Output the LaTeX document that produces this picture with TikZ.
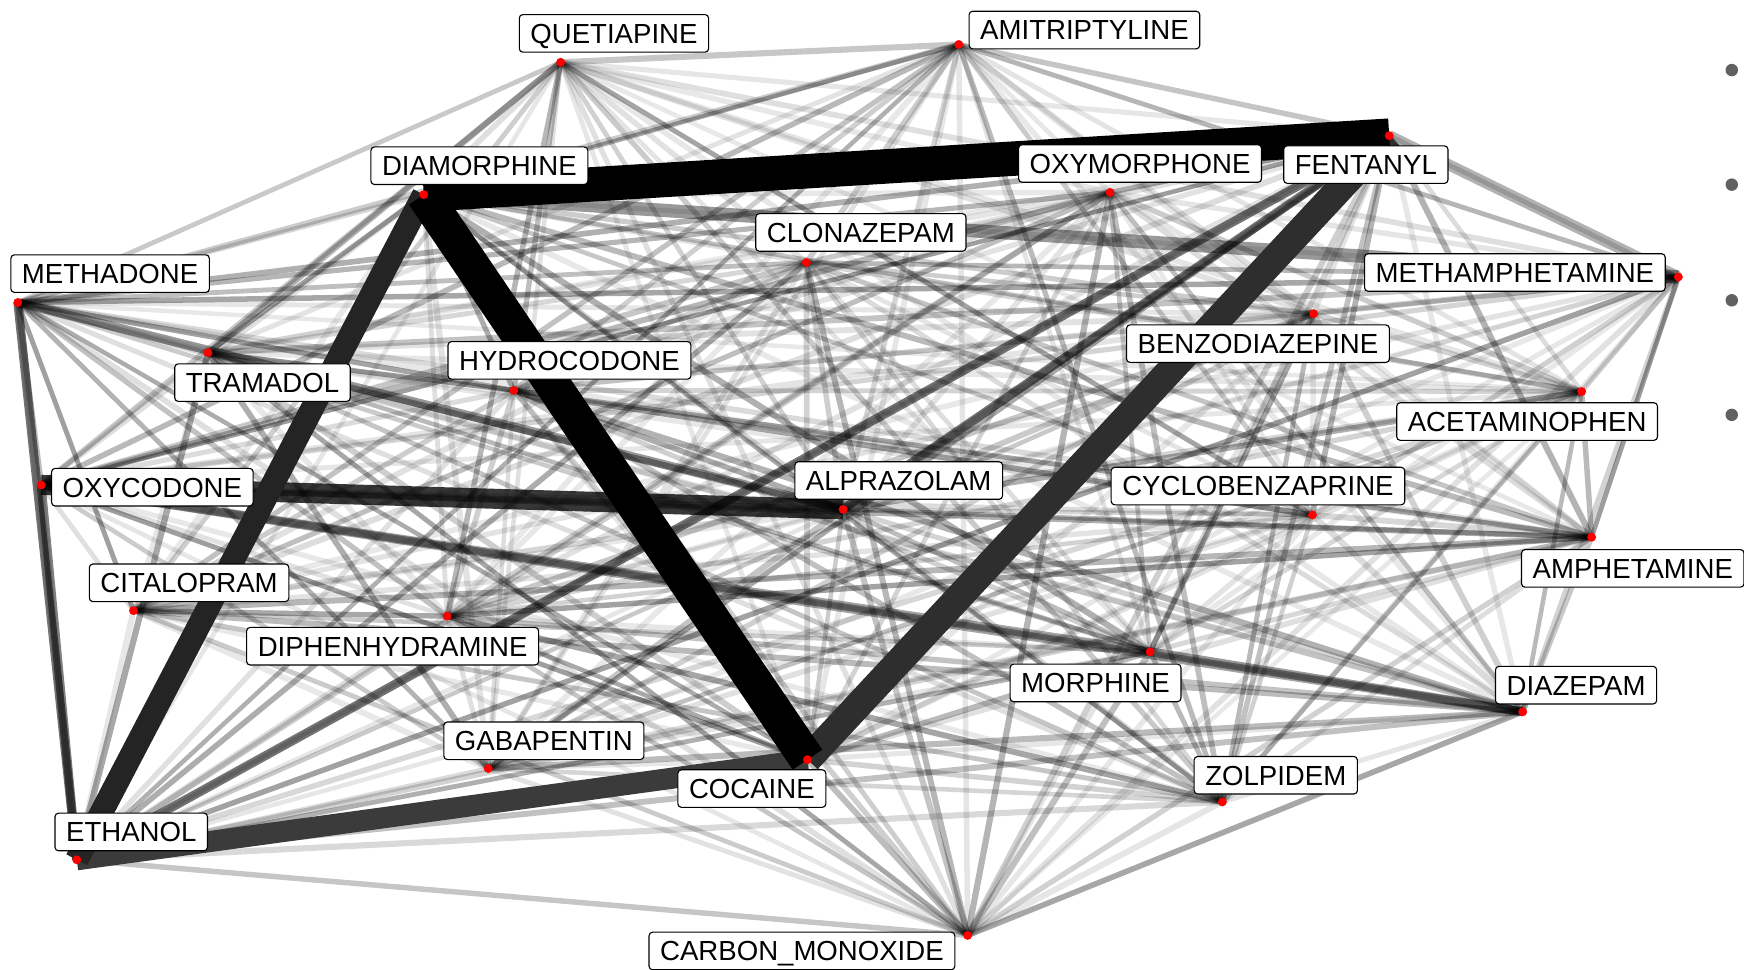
\documentclass[tikz,border=0pt]{standalone}
\usepackage{fontspec}
\setmainfont{Liberation Sans}

\def\drugs{quet,amit,diam,oxym,fent,clon,meth,metham,benzo,tram,hydro,acet,oxyc,alpr,cyclo,amph,cital,diph,morph,diaz,gaba,coca,zolp,etha,carb}

\begin{document}
\begin{tikzpicture}[x=0.5pt,y=-0.5pt,
	drug/.style={draw=black,line width=0.5pt,fill=white,rounded corners=1.6pt,
		inner xsep=5pt,inner ysep=4pt,text height=8.9pt,text depth=0pt,
		font=\fontsize{12.4}{14}\selectfont},
	hit/.style={circle,fill=red,inner sep=0pt,minimum size=4pt},
	keydot/.style={circle,fill=black!62,inner sep=0pt,minimum size=5.6pt},
	tie/.style={draw=black,draw opacity=#1},
	heavy/.style={draw=black!#1}]
	\useasboundingbox (0,0) rectangle (1568,872);
	\coordinate (quet) at (504,56);
	\coordinate (amit) at (862,40);
	\coordinate (diam) at (381,175);
	\coordinate (oxym) at (998,173);
	\coordinate (fent) at (1249,122);
	\coordinate (clon) at (725,236);
	\coordinate (meth) at (16,272);
	\coordinate (metham) at (1509,249);
	\coordinate (benzo) at (1181,282);
	\coordinate (tram) at (187,317);
	\coordinate (hydro) at (462,351);
	\coordinate (acet) at (1422,352);
	\coordinate (oxyc) at (37,436);
	\coordinate (alpr) at (758,458);
	\coordinate (cyclo) at (1180,463);
	\coordinate (amph) at (1431,483);
	\coordinate (cital) at (120,549);
	\coordinate (diph) at (402,554);
	\coordinate (morph) at (1034,586);
	\coordinate (diaz) at (1369,640);
	\coordinate (gaba) at (439,691);
	\coordinate (coca) at (726,683);
	\coordinate (zolp) at (1099,721);
	\coordinate (etha) at (69,773);
	\coordinate (carb) at (870,841);

	\pgfmathsetseed{11}
	\foreach \a [count=\i] in \drugs {
		\foreach \b [count=\j] in \drugs {
			\ifnum\j>\i
				\pgfmathsetmacro\r{rnd}
				\pgfmathsetmacro\op{0.09+0.3*\r*\r}
				\pgfmathsetmacro\lw{2.0+0.8*rnd}
				\draw[tie=\op,line width=\lw pt] (\a) -- (\b);
			\fi
		}
	}

	\path[line width=4pt]
		(oxyc) edge[tie=0.35] (diaz)
		(oxyc) edge[tie=0.35] (morph)
		(meth) edge[tie=0.4] (alpr)
		(morph) edge[tie=0.4] (diaz)
		(fent) edge[tie=0.55] (etha)
			edge[tie=0.55] (alpr)
		(meth) edge[tie=0.55] (etha)
		(oxyc) edge[tie=0.5] (etha);
	\path
		(diam) edge[tie=0.4,line width=6pt] (metham)
		(fent) edge[tie=0.3,line width=5pt] (metham)
		(oxyc) edge[tie=0.78,line width=9pt] (alpr)
		(coca) edge[heavy=77,line width=9.5pt] (etha)
		(fent) edge[heavy=82,line width=12.5pt] (coca)
		(diam) edge[heavy=86,line width=10.5pt] (etha)
		(diam) edge[heavy=100,line width=15.5pt] (fent)
		(diam) edge[heavy=100,line width=16pt] (coca);

	\foreach \a in \drugs
		\node[hit] (\a-dot) at (\a) {};

	\draw (552,30) node [drug] (quet-l) {QUETIAPINE};
	\draw (975,27) node [drug] (amit-l) {AMITRIPTYLINE};
	\draw (431,149) node [drug] (diam-l) {DIAMORPHINE};
	\draw (1025,147) node [drug] (oxym-l) {OXYMORPHONE};
	\draw (1228,148) node [drug] (fent-l) {FENTANYL};
	\draw (774,209) node [drug] (clon-l) {CLONAZEPAM};
	\draw (99,246) node [drug] (meth-l) {METHADONE};
	\draw (1362,245) node [drug] (metham-l) {METHAMPHETAMINE};
	\draw (1131,309) node [drug] (benzo-l) {BENZODIAZEPINE};
	\draw (236,344) node [drug] (tram-l) {TRAMADOL};
	\draw (512,324) node [drug] (hydro-l) {HYDROCODONE};
	\draw (1373,379) node [drug] (acet-l) {ACETAMINOPHEN};
	\draw (137,438) node [drug] (oxyc-l) {OXYCODONE};
	\draw (808,432) node [drug] (alpr-l) {ALPRAZOLAM};
	\draw (1131,437) node [drug] (cyclo-l) {CYCLOBENZAPRINE};
	\draw (1468,511) node [drug] (amph-l) {AMPHETAMINE};
	\draw (170,524) node [drug] (cital-l) {CITALOPRAM};
	\draw (353,581) node [drug] (diph-l) {DIPHENHYDRAMINE};
	\draw (985,614) node [drug] (morph-l) {MORPHINE};
	\draw (1417,616) node [drug] (diaz-l) {DIAZEPAM};
	\draw (489,666) node [drug] (gaba-l) {GABAPENTIN};
	\draw (676,709) node [drug] (coca-l) {COCAINE};
	\draw (1147,697) node [drug] (zolp-l) {ZOLPIDEM};
	\draw (118,748) node [drug] (etha-l) {ETHANOL};
	\draw (721,855) node [drug] (carb-l) {CARBON\_MONOXIDE};

	\node[keydot] (k1) at (1557,63) {};
	\node[keydot] (k2) at (1557,166) {};
	\node[keydot] (k3) at (1557,270) {};
	\node[keydot] (k4) at (1557,373) {};
\end{tikzpicture}
\end{document}
